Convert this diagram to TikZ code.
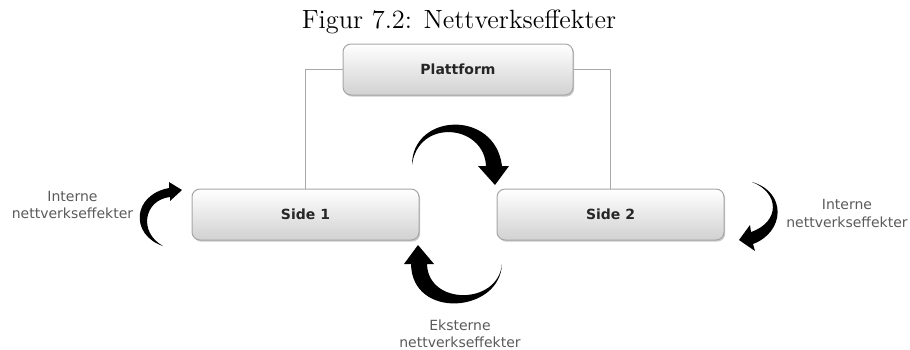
\documentclass[tikz,border=0pt]{standalone}
\usepackage{fontspec}
\newfontfamily\vfont{DejaVu Sans}
\usetikzlibrary{shadows}
\definecolor{lblgray}{HTML}{5A5A5A}
\definecolor{linegray}{HTML}{A8A8A8}
\tikzset{
  boxnode/.style={draw=black!35, line width=0.5pt, rounded corners=4pt,
    top color=white, bottom color=black!18, minimum height=25.5pt,
    font=\vfont\bfseries\fontsize{7}{8}\selectfont, text=black!85,
    drop shadow={shadow xshift=0.6pt, shadow yshift=-0.8pt, opacity=0.35, fill=black!60}},
  lbl/.style={font=\vfont\fontsize{7}{8.6}\selectfont, text=lblgray, align=center},
  conn/.style={draw=linegray, line width=0.6pt},
  arrowbody/.style={fill=black, draw=none}
}
\begin{document}
\begin{tikzpicture}[x=0.5pt,y=-0.5pt]
\useasboundingbox (0,0) rectangle (910,349);
\node[font=\fontsize{13.2}{15}\selectfont] (title) at (459,22) {Figur 7.2: Nettverkseffekter};
\node[boxnode, minimum width=115pt] (plat) at (458,69.5) {Plattform};
\node[boxnode, minimum width=113.5pt] (s1) at (305.5,214.5) {Side 1};
\node[boxnode, minimum width=113.5pt] (s2) at (610.5,214.5) {Side 2};
\draw[conn] (plat.west) -| (s1.north);
\draw[conn] (plat.east) -| (s2.north);
\node[lbl] (l1) at (72.5,205) {Interne\\nettverkseffekter};
\node[lbl] (l2) at (847,213.5) {Interne\\nettverkseffekter};
\node[lbl] (l3) at (460,333.5) {Eksterne\\nettverkseffekter};
% top center arrow
\fill[arrowbody] (412,165) .. controls (412,113) and (495,109) .. (502,166)
  -- (509,166) -- (495,185) -- (478,166) -- (486,166)
  .. controls (484,124) and (418,118) .. (412,165) -- cycle;
% bottom center arrow
\fill[arrowbody] (502,264) .. controls (500,313) and (412,320) .. (411,264)
  -- (404,264) -- (418,245) -- (434,264) -- (427,264)
  .. controls (428,305.5) and (498,305.5) .. (502,264) -- cycle;
% left small arrow
\fill[arrowbody] (163,246) .. controls (130,235) and (132,195) .. (169,188)
  -- (169,182) -- (182,190) -- (170,201) -- (170,197)
  .. controls (144,200) and (138,232) .. (163,246) -- cycle;
% right small arrow
\fill[arrowbody] (752,182) .. controls (787,192) and (785,232) .. (753,244)
  -- (755,251) -- (739,240) -- (750,225) -- (751,232)
  .. controls (780,222) and (780,193) .. (752,182) -- cycle;
\end{tikzpicture}
\end{document}
